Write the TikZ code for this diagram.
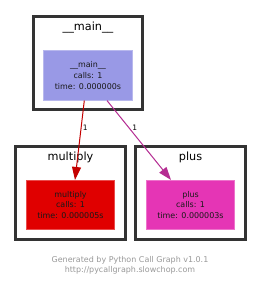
\documentclass[tikz,border=0pt]{standalone}
\usepackage{fontspec}
\setmainfont{DejaVu Sans}
\usetikzlibrary{arrows.meta}
\definecolor{mainc}{HTML}{9999E6}
\definecolor{mulc}{HTML}{E00000}
\definecolor{plusc}{HTML}{E535B5}
\definecolor{mule}{HTML}{C40000}
\definecolor{pluse}{HTML}{B52C92}
\definecolor{clus}{HTML}{333333}
\definecolor{foot}{HTML}{999999}
\begin{document}
\begin{tikzpicture}[x=1bp,y=-1bp,
  cluster/.style={draw=clus, line width=3bp, minimum width=109bp, minimum height=93bp, inner sep=0pt},
  func/.style={minimum width=88.5bp, minimum height=49.5bp, inner sep=0pt, align=center,
    font=\fontsize{8}{11}\selectfont, text=black!90, line width=0.6bp},
  ctitle/.style={anchor=base, inner sep=0pt, font=\fontsize{11.3}{13}\selectfont},
  edge/.style={line width=1bp, -{Triangle[length=13bp,width=9bp]}},
  elabel/.style={inner sep=0pt, font=\fontsize{7.5}{9}\selectfont},
  foottext/.style={align=center, inner sep=0pt, text=foot, font=\fontsize{8}{10.6}\selectfont}]
\useasboundingbox (0,0) rectangle (261,288);
\fill[white] (0,0) rectangle (261,288);
% clusters
\node[cluster] (cmain) at (88,63) {};
\node[cluster] (cmul) at (70.5,192.5) {};
\node[cluster] (cplus) at (190.5,192.5) {};
% titles
\node[ctitle] (tmain) at (88,30.6) {\_\_main\_\_};
\node[ctitle] (tmul) at (70.5,160.2) {multiply};
\node[ctitle] (tplus) at (190.5,160.2) {plus};
% function nodes
\node[func, fill=mainc, draw=mainc!70!white] (fmain) at (88,75.5) {\_\_main\_\_\\calls: 1\\time: 0.000000s};
\node[func, fill=mulc, draw=mulc!70!white] (fmul) at (70.5,205) {multiply\\calls: 1\\time: 0.000005s};
\node[func, fill=plusc, draw=plusc!70!white] (fplus) at (190.5,205) {plus\\calls: 1\\time: 0.000003s};
% edges
\draw[edge, mule] ([xshift=-3.7bp]fmain.south) -- ([xshift=4.5bp]fmul.north);
\draw[edge, pluse] ([xshift=19bp]fmain.south) -- ([xshift=-19.5bp]fplus.north);
\node[elabel] (l1) at (85.2,127.5) {1};
\node[elabel] (l2) at (134.7,127.5) {1};
% footer
\node[foottext] (foot) at (130,265.5) {Generated by Python Call Graph v1.0.1\\http://pycallgraph.slowchop.com};
\end{tikzpicture}
\end{document}
